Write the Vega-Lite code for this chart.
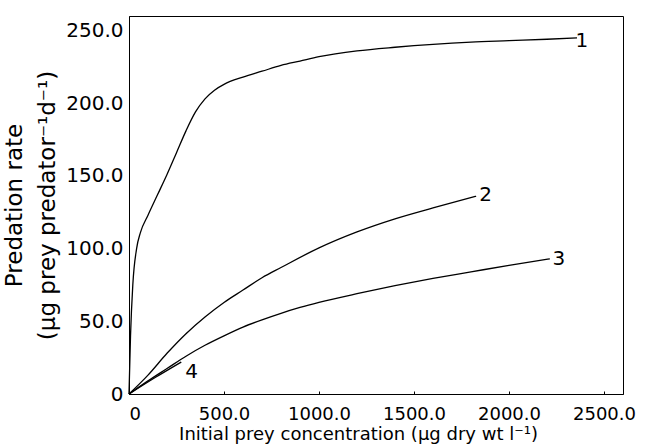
{
  "$schema": "https://vega.github.io/schema/vega-lite/v6.json",
  "width": 494,
  "height": 378,
  "autosize": {"type": "none"},
  "padding": {"left": 129, "top": 16, "right": 30, "bottom": 53},
  "config": {
    "view": {"stroke": "black", "strokeWidth": 1},
    "font": "DejaVu Sans",
    "axis": {"domainColor": "black", "labelColor": "black", "titleColor": "black", "grid": false, "ticks": false, "titleFontWeight": "normal"}
  },
  "datasets": {
    "curves": [
      {"curve": "1", "x": 0, "y": 0}, {"curve": "1", "x": 8, "y": 40}, {"curve": "1", "x": 20, "y": 75}, {"curve": "1", "x": 40, "y": 100},
      {"curve": "1", "x": 60, "y": 111}, {"curve": "1", "x": 100, "y": 123}, {"curve": "1", "x": 150, "y": 137}, {"curve": "1", "x": 200, "y": 151},
      {"curve": "1", "x": 250, "y": 166}, {"curve": "1", "x": 300, "y": 181}, {"curve": "1", "x": 350, "y": 194}, {"curve": "1", "x": 400, "y": 203},
      {"curve": "1", "x": 450, "y": 209}, {"curve": "1", "x": 500, "y": 213}, {"curve": "1", "x": 600, "y": 218}, {"curve": "1", "x": 700, "y": 222},
      {"curve": "1", "x": 800, "y": 226}, {"curve": "1", "x": 900, "y": 229}, {"curve": "1", "x": 1000, "y": 232}, {"curve": "1", "x": 1200, "y": 236},
      {"curve": "1", "x": 1400, "y": 238.5}, {"curve": "1", "x": 1600, "y": 240.5}, {"curve": "1", "x": 1800, "y": 242}, {"curve": "1", "x": 2000, "y": 243},
      {"curve": "1", "x": 2200, "y": 244}, {"curve": "1", "x": 2358, "y": 245},
      {"curve": "2", "x": 0, "y": 0}, {"curve": "2", "x": 100, "y": 13}, {"curve": "2", "x": 200, "y": 28}, {"curve": "2", "x": 300, "y": 41.5},
      {"curve": "2", "x": 400, "y": 53}, {"curve": "2", "x": 500, "y": 63}, {"curve": "2", "x": 600, "y": 71.5}, {"curve": "2", "x": 700, "y": 80},
      {"curve": "2", "x": 800, "y": 87}, {"curve": "2", "x": 1000, "y": 100.5}, {"curve": "2", "x": 1200, "y": 111.5}, {"curve": "2", "x": 1400, "y": 120.5},
      {"curve": "2", "x": 1600, "y": 128}, {"curve": "2", "x": 1827, "y": 136},
      {"curve": "3", "x": 0, "y": 0}, {"curve": "3", "x": 100, "y": 9}, {"curve": "3", "x": 200, "y": 17.5}, {"curve": "3", "x": 300, "y": 26},
      {"curve": "3", "x": 400, "y": 33.5}, {"curve": "3", "x": 500, "y": 40}, {"curve": "3", "x": 600, "y": 46}, {"curve": "3", "x": 700, "y": 51},
      {"curve": "3", "x": 800, "y": 55.5}, {"curve": "3", "x": 900, "y": 59.5}, {"curve": "3", "x": 1000, "y": 63}, {"curve": "3", "x": 1200, "y": 69},
      {"curve": "3", "x": 1400, "y": 74.5}, {"curve": "3", "x": 1600, "y": 79.5}, {"curve": "3", "x": 1800, "y": 84}, {"curve": "3", "x": 2000, "y": 88.5},
      {"curve": "3", "x": 2215, "y": 93},
      {"curve": "4", "x": 0, "y": 0}, {"curve": "4", "x": 140, "y": 11.5}, {"curve": "4", "x": 275, "y": 22}
    ],
    "labels": [
      {"label": "1", "x": 2384, "y": 242.7},
      {"label": "2", "x": 1877, "y": 136.9},
      {"label": "3", "x": 2262, "y": 92.6},
      {"label": "4", "x": 329, "y": 15.2}
    ]
  },
  "layer": [
    {
      "data": {"name": "curves"},
      "mark": {"type": "line", "color": "black", "interpolate": "monotone"},
      "encoding": {
        "x": {
          "field": "x", "type": "quantitative",
          "scale": {"domain": [0, 2500]},
          "axis": {
            "values": [0, 500, 1000, 1500, 2000, 2500],
            "labelExpr": "datum.value == 0 ? '0' : format(datum.value, '.1f')",
            "ticks": true, "tickSize": -3, "tickColor": "black",
            "labelFontSize": 18, "labelPadding": 14,
            "title": "Initial prey concentration (μg dry wt l⁻¹)",
            "titleFontSize": 18, "titlePadding": 2, "titleX": 229
          }
        },
        "y": {
          "field": "y", "type": "quantitative",
          "scale": {"domain": [0, 250]},
          "axis": {
            "values": [0, 50, 100, 150, 200, 250],
            "labelExpr": "datum.value == 0 ? '0' : format(datum.value, '.1f')",
            "labelFontSize": 20, "labelPadding": 6,
            "title": ["\u00a0\u00a0\u00a0\u00a0\u00a0Predation rate", "(μg prey predator⁻¹d⁻¹)\u00a0\u00a0\u00a0\u00a0"],
            "titleFontSize": 23, "titlePadding": 6, "titleLineHeight": 33
          }
        },
        "detail": {"field": "curve"},
        "order": {"field": "x", "type": "quantitative"},
        "strokeWidth": {"field": "curve", "type": "nominal", "scale": {"domain": ["1", "2", "3", "4"], "range": [1.3, 1.3, 1.3, 3]}, "legend": null}
      }
    },
    {
      "data": {"name": "labels"},
      "mark": {"type": "text", "fontSize": 20, "color": "black"},
      "encoding": {
        "x": {"field": "x", "type": "quantitative"},
        "y": {"field": "y", "type": "quantitative"},
        "text": {"field": "label"}
      }
    }
  ]
}
